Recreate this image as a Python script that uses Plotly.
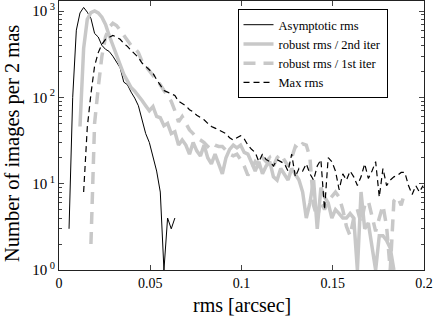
import numpy as np
import plotly.graph_objects as go

BIN = 0.002

asym_start = 0.0055
asym = [3, 100, 600, 950, 1100, 970, 820, 550, 500, 400, 360, 340, 300, 260, 220,
        150, 140, 115, 98, 80, 56, 38, 30, 20, 14, 8, 1, 4, 3, 4]

rob2_start = 0.0115
rob2 = [46, 370, 800, 960, 1000, 950, 850, 700, 520, 400, 300, 230, 185, 155, 130,
        118, 105, 92, 80, 70, 78, 60, 58, 47, 50, 38, 40, 28, 32, 28,
        22, 30, 24, 21, 28, 20, 17, 22, 17, 13, 20, 25, 28, 26, 28,
        23, 22, 17, 14, 18, 13, 16, 18, 12, 11, 15, 13, 11, 15, 13,
        11, 8, 4, 6, 11, 3, 9, 7, 6, 4, 5, 4.5, 4, 4, 4.5,
        4, 1, 8, 3, 3.5, 2, 1, 2.5, 2.5, 2.2, 1.8, 1]

rob1_start = 0.0175
rob1 = [2, 50, 130, 300, 500, 650, 720, 680, 600, 520, 450, 400, 370, 330, 260,
        230, 200, 180, 160, 140, 120, 105, 90, 70, 52, 60, 50, 42, 38, 34,
        32, 30, 27, 30, 28, 27, 27, 24, 22, 21, 22, 19, 16, 12.5, 15, 18,
        16, 20, 18, 20, 16, 20, 22, 19, 16, 20, 27, 25, 29, 28, 20, 5.6,
        4, 6.3, 5, 6.3, 7, 8, 7, 5, 3.2, 2.5, 4, 5, 3.5, 5.6, 6.3, 4,
        2.8, 4, 5.6, 3.2, 1, 6.3, 7, 5.6, 8]

maxr_start = 0.0135
maxr = [8, 45, 110, 230, 330, 410, 470, 500, 520, 500, 470, 420, 390, 350, 320,
        290, 250, 230, 210, 190, 160, 140, 120, 115, 110, 105, 90, 85, 80, 72,
        68, 62, 58, 55, 50, 46, 44, 42, 40, 38, 34, 32, 34, 36, 33,
        28, 25, 23, 18, 22, 19, 18, 16, 19, 18, 17, 14, 22, 12, 15,
        14, 17, 13, 11, 16, 19, 5, 20, 18, 14, 8.5, 13, 11, 14, 12,
        9.5, 12, 17, 11.5, 14, 18, 7, 15, 9.5, 11, 12, 12.5, 13.5, 13.5, 9.5,
        7.5, 9.5, 8, 9.5]

names = ["Asymptotic rms", "robust rms / 2nd iter", "robust rms / 1st iter", "Max rms"]
x_title = "rms [arcsec]"
y_title = "Number of images per 2 mas"
x_ticks = [0, 0.05, 0.1, 0.15, 0.2]
x_labels = ["0", "0.05", "0.1", "0.15", "0.2"]
y_ticks = [1, 10, 100, 1000]
y_labels = ["10<sup> 0</sup>", "10<sup> 1</sup>", "10<sup> 2</sup>", "10<sup> 3</sup>"]


def xs(start, vals):
    return start + BIN * np.arange(len(vals))


GRAY = "rgb(200,200,200)"
fig = go.Figure()
fig.add_trace(go.Scatter(x=xs(asym_start, asym), y=asym, mode="lines", name=names[0],
                         line=dict(color="black", width=1)))
fig.add_trace(go.Scatter(x=xs(rob2_start, rob2), y=rob2, mode="lines", name=names[1],
                         line=dict(color=GRAY, width=3.5)))
fig.add_trace(go.Scatter(x=xs(rob1_start, rob1), y=rob1, mode="lines", name=names[2],
                         line=dict(color=GRAY, width=3.5, dash="12px,8px")))
fig.add_trace(go.Scatter(x=xs(maxr_start, maxr), y=maxr, mode="lines", name=names[3],
                         line=dict(color="black", width=1.2, dash="6px,4px")))

minor_vals = [m * 10 ** d for d in range(0, 4) for m in range(2, 10)]

FONT = "Liberation Serif"
fig.update_layout(
    width=436, height=317,
    margin=dict(l=59, r=12, t=1, b=47),
    paper_bgcolor="white", plot_bgcolor="white",
    font=dict(family=FONT, size=14, color="black"),
    showlegend=True,
    legend=dict(x=0.9, y=0.97, xanchor="right", yanchor="top",
                bgcolor="white", bordercolor="black", borderwidth=1,
                font=dict(family=FONT, size=12.5), tracegroupgap=0,
                itemwidth=30),
    xaxis=dict(range=[0, 0.2], tickvals=x_ticks, ticktext=x_labels, automargin=False,
               ticks="inside", ticklen=5, showgrid=False, zeroline=False,
               showline=True, linecolor="#222", linewidth=1, mirror="ticks",
               tickfont=dict(size=14)),
    yaxis=dict(type="log", range=[0, 3.116], tickvals=y_ticks, ticktext=y_labels,
               automargin=False,
               ticks="inside", ticklen=5, showgrid=False, zeroline=False,
               showline=True, linecolor="#222", linewidth=1, mirror="ticks",
               tickfont=dict(size=15),
               minor=dict(tickvals=minor_vals, ticks="inside", ticklen=3, showgrid=False)),
    annotations=[
        dict(text=x_title, xref="paper", yref="paper", x=0.5, y=0, yshift=-35,
             xanchor="center", yanchor="middle", showarrow=False,
             font=dict(family=FONT, size=20)),
        dict(text=y_title, xref="paper", yref="paper", x=0, y=0.468, xshift=-47,
             xanchor="center", yanchor="middle", textangle=-90, showarrow=False,
             font=dict(family=FONT, size=20.5)),
    ],
)

fig.write_html("out.html", config={"displayModeBar": False},
               post_script="document.body.style.margin='0px';document.body.style.padding='0px';")
